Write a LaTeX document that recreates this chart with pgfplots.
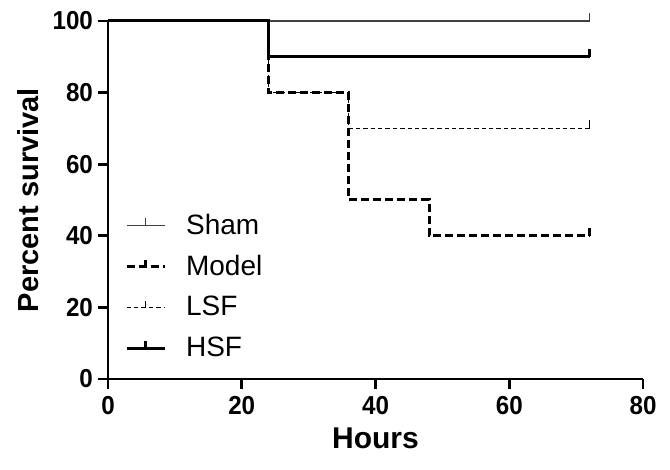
\documentclass[border=0pt]{standalone}
\usepackage{fontspec}
\setmainfont{Liberation Sans}
\newfontfamily\narrow[FakeStretch=0.93]{Liberation Sans}
\usepackage{pgfplots}
\pgfplotsset{compat=1.18}
\pgfdeclareplotmark{censor}{\pgfpathmoveto{\pgfpoint{0pt}{0pt}}\pgfpathlineto{\pgfpoint{0pt}{4pt}}\pgfusepathqstroke}
\begin{document}
\begin{tikzpicture}
\begin{axis}[
  name=ax,
  scale only axis,
  width=267.5pt, height=179pt,
  xmin=0, xmax=80, ymin=0, ymax=100,
  xtick={0,20,40,60,80}, ytick={0,20,40,60,80,100},
  axis x line=bottom, axis y line=left,
  axis line style={-, line width=1.4pt},
  tick align=outside, major tick length=5pt,
  tick style={line width=1.4pt, black},
  /pgf/number format/assume math mode=true,
  ticklabel style={font=\narrow\bfseries\fontsize{13}{13}\selectfont},
  yticklabel style={xshift=1pt},
  xlabel={Hours}, ylabel={Percent survival},
  label style={font=\bfseries\fontsize{15}{15}\selectfont},
  ylabel style={font=\bfseries\fontsize{14.5}{14.5}\selectfont, yshift=0pt},
  clip=false,
  legend style={draw=none, fill=none, at={(0.02,0.485)}, anchor=north west,
    font=\fontsize{14}{14}\selectfont, row sep=5pt, cells={anchor=west},
    /tikz/every odd column/.append style={column sep=8pt}},
  legend image code/.code={\draw[#1] (0pt,0pt) -- (19pt,0pt); \draw[#1,solid] (9.5pt,0pt) -- (9.5pt,3.5pt);},
]
\addplot[const plot, black!75, line width=0.6pt] coordinates {(0,100) (72,100)};
\addlegendentry{Sham}
\addplot[const plot, black, line width=1.5pt, dash pattern=on 4pt off 2pt] coordinates {(0,100) (24,80) (36,50) (48,40) (72,40)};
\addlegendentry{Model}
\addplot[const plot, black, line width=0.6pt, dash pattern=on 2.2pt off 1.5pt] coordinates {(0,100) (24,80) (36,70) (72,70)};
\addlegendentry{LSF}
\addplot[const plot, black, line width=1.5pt] coordinates {(0,100) (24,90) (72,90)};
\addlegendentry{HSF}
\addplot[only marks, mark=censor, black!75, line width=0.6pt, forget plot] coordinates {(72,100)};
\addplot[only marks, mark=censor, black, line width=1.5pt, forget plot] coordinates {(72,40)};
\addplot[only marks, mark=censor, black, line width=0.6pt, forget plot] coordinates {(72,70)};
\addplot[only marks, mark=censor, black, line width=1.5pt, forget plot] coordinates {(72,90)};
\end{axis}
\pgfresetboundingbox
\path[use as bounding box] ([xshift=-54pt,yshift=-45pt]ax.south west) rectangle ([xshift=13.5pt,yshift=10.5pt]ax.north east);
\end{tikzpicture}
\end{document}
